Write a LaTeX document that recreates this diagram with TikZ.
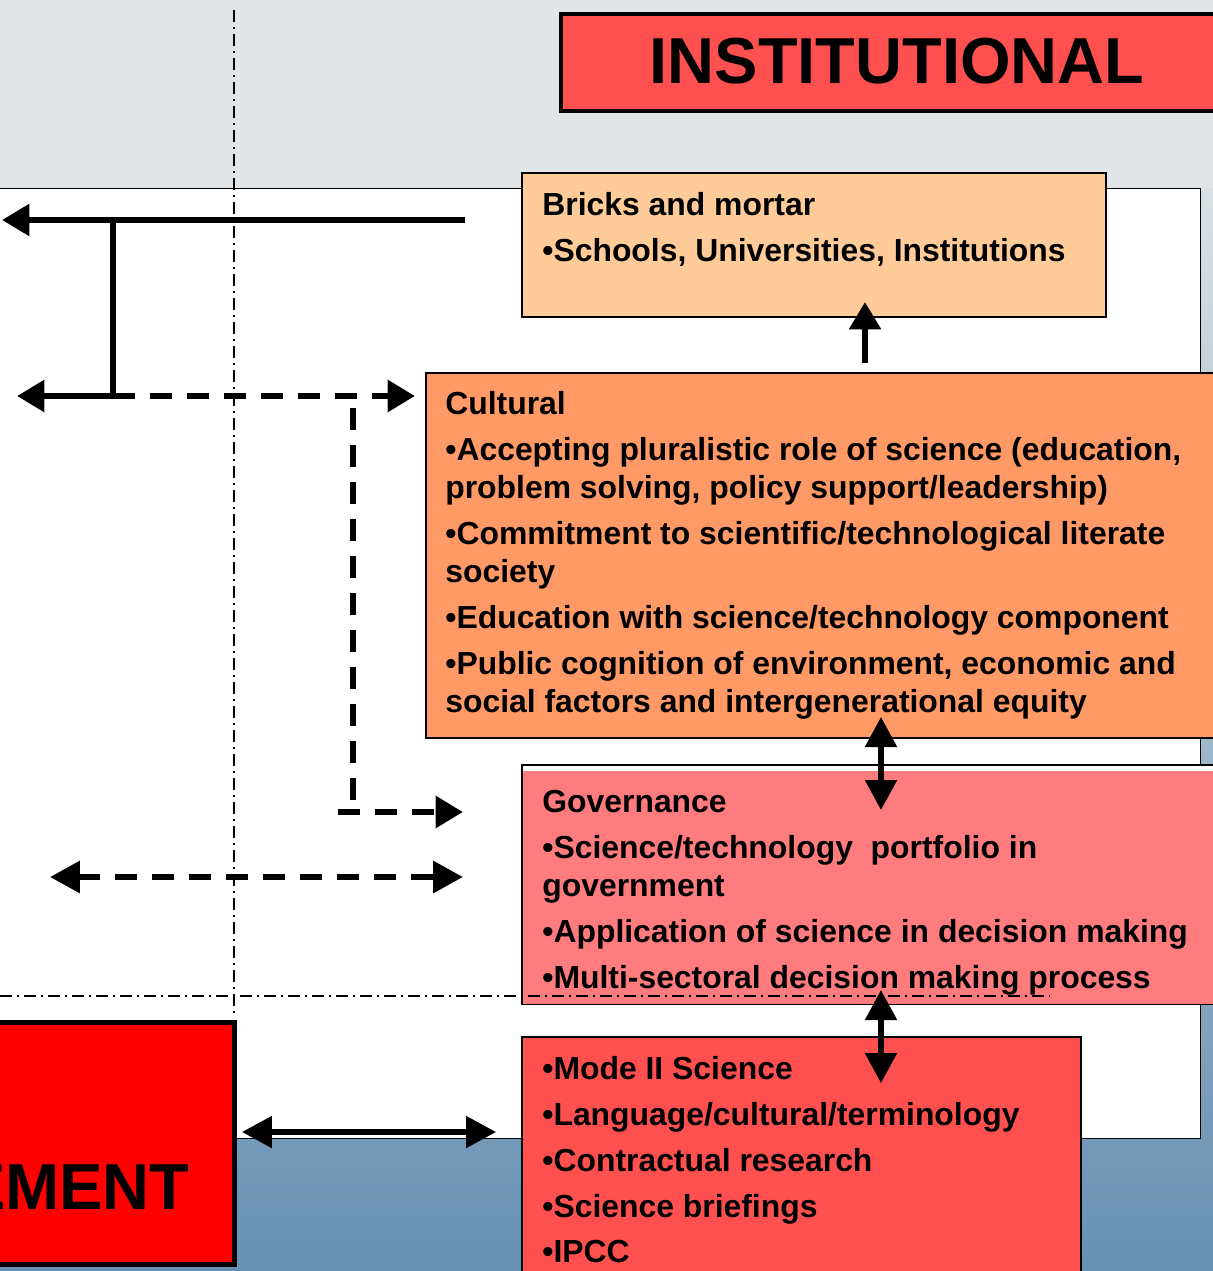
\documentclass[tikz,border=0pt]{standalone}
\usepackage{fontspec}
\setmainfont{Liberation Sans}
\usetikzlibrary{arrows.meta,positioning,calc}

\definecolor{bg_gray}{HTML}{E1E5E7}
\definecolor{bg_top}{HTML}{D9E0E4}
\definecolor{bg_mid}{HTML}{AFC1CC}
\definecolor{bg_bottom}{HTML}{6690B2}
\definecolor{inst_red}{HTML}{FF5050}
\definecolor{ment_red}{HTML}{FF0000}
\definecolor{peach}{HTML}{FFCC99}
\definecolor{orange_box}{HTML}{FF9966}
\definecolor{gov_pink}{HTML}{FF7C7E}

\tikzset{
  box/.style={rectangle, draw, line width=1.3pt, anchor=north west, inner sep=0pt},
  txt/.style={anchor=north west, inner sep=0pt, align=left, font=\fontsize{18.15}{21.8}\selectfont\bfseries},
  big/.style={inner sep=0pt, font=\fontsize{37}{40}\selectfont\bfseries},
  solidarrow/.style={line width=3.5pt, -{Triangle[length=0.55cm,width=0.62cm]}},
  dashline/.style={line width=3.6pt, dash pattern=on 0.44cm off 0.3cm},
  dasharrow/.style={dashline, -{Triangle[length=0.55cm,width=0.62cm]}},
  twoway/.style={line width=3pt, {Triangle[length=0.6cm,width=0.62cm]}-{Triangle[length=0.6cm,width=0.62cm]}},
  guide/.style={line width=1pt, dash pattern=on 0.24cm off 0.1cm on 0.04cm off 0.1cm}
}

\begin{document}
\begin{tikzpicture}[x=0.02cm, y=-0.02cm]
\useasboundingbox (0,0) rectangle (1213,1271);

% background
\fill[bg_gray] (0,0) rectangle (1213,188);
\shade[top color=bg_top, middle color=bg_mid, bottom color=bg_bottom] (0,188) rectangle (1213,1271);
\node[box, line width=0.8pt, fill=white, minimum width=24.1cm, minimum height=19cm] (panel) at (-5,188) {};

% title box
\node[box, line width=2.4pt, fill=inst_red, minimum width=13.6cm, minimum height=1.94cm] (inst) at (559,12) {};
\node[big] (inst_label) at (897,61) {INSTITUTIONAL};

% boxes on the right
\node[box, fill=peach, minimum width=11.68cm, minimum height=2.88cm] (bricks) at (521,172) {};
\node[txt] (bricks_txt) at ([shift={(21,20)}]bricks.north west)
  {Bricks and mortar\\[4.3pt]
   •Schools, Universities, Institutions};

\node[box, fill=orange_box, minimum width=16.4cm, minimum height=7.3cm] (cultural) at (425,372) {};
\node[txt] (cultural_txt) at ([shift={(20,19)}]cultural.north west)
  {Cultural\\[4.3pt]
   •Accepting pluralistic role of science (education,\\
   problem solving, policy support/leadership)\\[4.3pt]
   •Commitment to scientific/technological literate\\
   society\\[4.3pt]
   •Education with science/technology component\\[4.3pt]
   •Public cognition of environment, economic and\\
   social factors and intergenerational equity};

\node[box, fill=white, minimum width=14.4cm, minimum height=4.78cm] (governance) at (521,764) {};
\fill[gov_pink] ($(governance.north west)+(2,7)$) rectangle ($(governance.south east)+(0,-1)$);
\node[txt] (governance_txt) at ([shift={(21,26)}]governance.north west)
  {Governance\\[4.3pt]
   •Science/technology~ portfolio in\\
   government\\[4.3pt]
   •Application of science in decision making\\[4.3pt]
   •Multi-sectoral decision making process};

\node[box, fill=inst_red, minimum width=11.18cm, minimum height=5.2cm] (mode_two) at (521,1036) {};
\node[txt] (mode_two_txt) at ([shift={(21,20)}]mode_two.north west)
  {•Mode II Science\\[4.3pt]
   •Language/cultural/terminology\\[4.3pt]
   •Contractual research\\[4.3pt]
   •Science briefings\\[4.3pt]
   •IPCC};

% box on the left
\node[box, line width=2.8pt, fill=ment_red, minimum width=5.44cm, minimum height=4.84cm] (ment) at (-40,1020) {};
\node[big, anchor=base east] (ment_label) at (190,1209) {EMENT};

% guide lines
\draw[guide] (234,10) -- (234,1015);
\draw[guide] (0,996) -- (1050,996);

% arrows on the left
\coordinate (top_end) at (465,220);
\coordinate (top_tip) at (2,220);
\coordinate (split) at (113,220);
\coordinate (fork) at (113,396);
\coordinate (fork_tip) at (17,396);
\coordinate (drop_top) at (353,408);
\coordinate (drop_bot) at (353,812);
\coordinate (drop_start) at (338,812);
\coordinate (both_left) at (50,877);
\coordinate (ment_link) at (242,1132);
\coordinate (mode_link) at (496,1132);

\draw[solidarrow] (top_end) -- (top_tip);
\draw[line width=3.5pt] (split) -- (fork);
\draw[solidarrow] (fork) -- (fork_tip);
\draw[dasharrow] (fork) -- ($(fork -| cultural.west)+(-10,0)$);
\draw[dashline] (drop_top) -- (drop_bot);
\draw[dasharrow] (drop_start) -- ($(drop_start -| governance.west)+(-58,0)$);
\draw[twoway, dash pattern=on 0.44cm off 0.3cm, line width=3.6pt] (both_left) -- ($(both_left -| governance.west)+(-58,0)$);
\draw[twoway] (ment_link) -- (mode_link);

% arrows between boxes
\coordinate (up_start) at (865,363);
\draw[solidarrow] (up_start) -- (up_start |- 0,302);
\draw[twoway] (881,717) -- (881,810);
\draw[twoway] (881,990) -- (881,1083);
\end{tikzpicture}
\end{document}
